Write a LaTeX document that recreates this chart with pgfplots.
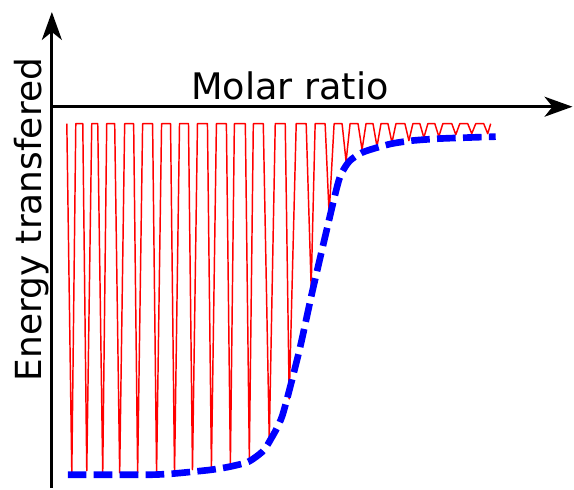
\documentclass[border=0pt]{standalone}
\usepackage{fontspec}
\setmainfont{DejaVu Sans}
\usepackage{pgfplots}
\pgfplotsset{compat=1.18}
\usetikzlibrary{arrows.meta}
\definecolor{rline}{RGB}{255,0,0}
\definecolor{bline}{RGB}{0,0,255}
\begin{document}
\begin{tikzpicture}
\begin{axis}[
  scale only axis,
  width=391.5pt, height=357.75pt,
  xmin=0, xmax=522, ymin=-382, ymax=95,
  axis lines=middle,
  xtick=\empty, ytick=\empty,
  clip=false,
  axis line style={line width=2.3pt, -{Stealth[length=21pt,width=15pt,inset=6pt]}},
  xlabel={Molar ratio},
  ylabel={Energy transfered},
  every axis x label/.style={at={(axis description cs:0.4575,0.816)},anchor=base,font=\fontsize{27.5}{32}\selectfont},
  every axis y label/.style={at={(axis description cs:-0.0197,0.5635)},anchor=base,rotate=90,font=\fontsize{27}{32}\selectfont},
]
\path (axis cs:-52,-382) rectangle (axis cs:522,107);
% red sawtooth (pixel coords converted: x'=px-52, y'=107-py)
\addplot[rline, line width=1.1pt, line join=round] table[x expr=\thisrowno{0}-52, y expr=107-\thisrowno{1}] {
67 124
72 474
76 124
83 124
87 472
92 124
98 124
103 474
107 124
115 124
120 474
125 124
134 124
138 474
143 124
153 124
157 474
162 124
171 124
175 474
180 124
189 124
193 471
198 124
208 124
212 468
217 124
227 124
231 465
235 124
246 124
250 459
254 124
264 124
270 441
276 124
286 124
290 400
297 124
307 124
312 288
316 124
326 124
330 215
335 124
343 124
347 162
351 124
359 124
363 150
367 124
374 124
378 147
382 124
389 124
393 143
397 124
406 124
410 141
414 124
421 124
425 138
429 124
436 124
440 137
444 124
453 124
457 135
461 124
469 124
473 134
477 124
485 124
489 134
492 124
};
% blue dashed curve
\addplot[bline, line width=5pt, dash pattern=on 14pt off 5.5pt, smooth, tension=0.4] table[x expr=\thisrowno{0}-52, y expr=107-\thisrowno{1}] {
68 476
100 476
150 476
172 475
193 473
212 471
230 468
249 463
263 453
270 443
283 417
300 352
313 293
327 233
340 180
350 162
363 153
378 148
393 144
413 141
440 139
467 138
497 137
};
\end{axis}
\end{tikzpicture}
\end{document}
